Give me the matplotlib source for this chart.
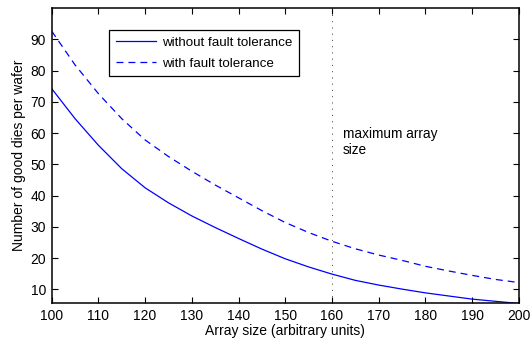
import matplotlib
matplotlib.use("Agg")
import matplotlib.pyplot as plt

# --- datos ---
array_size = [100, 105, 110, 115, 120, 125, 130, 135, 140, 145, 150,
              155, 160, 165, 170, 175, 180, 185, 190, 195, 200]
sin_tolerancia = [74.2, 64.6, 56.1, 48.6, 42.5, 37.7, 33.5, 29.8, 26.3, 22.9, 19.8,
                  17.2, 14.9, 12.9, 11.4, 10.1, 8.9, 7.9, 6.9, 6.2, 5.5]
con_tolerancia = [92.6, 81.8, 72.6, 64.6, 57.8, 52.5, 47.8, 43.4, 39.3, 35.2, 31.4,
                  28.2, 25.4, 23.0, 21.0, 19.3, 17.4, 15.9, 14.5, 13.2, 12.2]
etiquetas = ['without fault tolerance', 'with fault tolerance']
tamano_max = 160
x_ticks = [100, 110, 120, 130, 140, 150, 160, 170, 180, 190, 200]
y_ticks = [10, 20, 30, 40, 50, 60, 70, 80, 90]

plt.rcParams['font.family'] = ['Liberation Sans', 'DejaVu Sans']
plt.rcParams['font.size'] = 10
plt.rcParams['lines.scale_dashes'] = False

fig = plt.figure(figsize=(5.32, 3.43), dpi=100)
ax = fig.add_axes([0.0972, 0.1152, 0.8778, 0.8615])

ax.plot(array_size, sin_tolerancia, color='#0000ff', lw=0.9, label=etiquetas[0])
ax.plot(array_size, con_tolerancia, color='#0000ff', lw=0.9,
        linestyle=(0, (5.0, 3.6)), label=etiquetas[1])
ax.axvline(tamano_max, color='#333333', lw=0.6, linestyle=(0, (0.8, 3.7)))
ax.text(162.4, 62, 'maximum array\nsize', ha='left', va='top', fontsize=9.8,
        linespacing=1.2)

ax.set_xlim(100, 200)
ax.set_ylim(5.5, 100)
ax.set_xticks(x_ticks)
ax.set_yticks(y_ticks)
ax.tick_params(direction='in', top=True, right=True, length=4, width=0.8, pad=4)
for s in ax.spines.values():
    s.set_linewidth(1.1)

ax.set_xlabel('Array size (arbitrary units)', labelpad=1)
ax.set_ylabel('Number of good dies per wafer', labelpad=3)

leg = ax.legend(loc='upper left', bbox_to_anchor=(0.123, 0.925), frameon=True,
                fancybox=False, edgecolor='k', framealpha=1, borderaxespad=0,
                handlelength=3.0, handletextpad=0.45, borderpad=0.5,
                labelspacing=0.62, prop={'size': 9.6})
leg.get_frame().set_linewidth(0.9)

fig.savefig('out.png', dpi=100)
